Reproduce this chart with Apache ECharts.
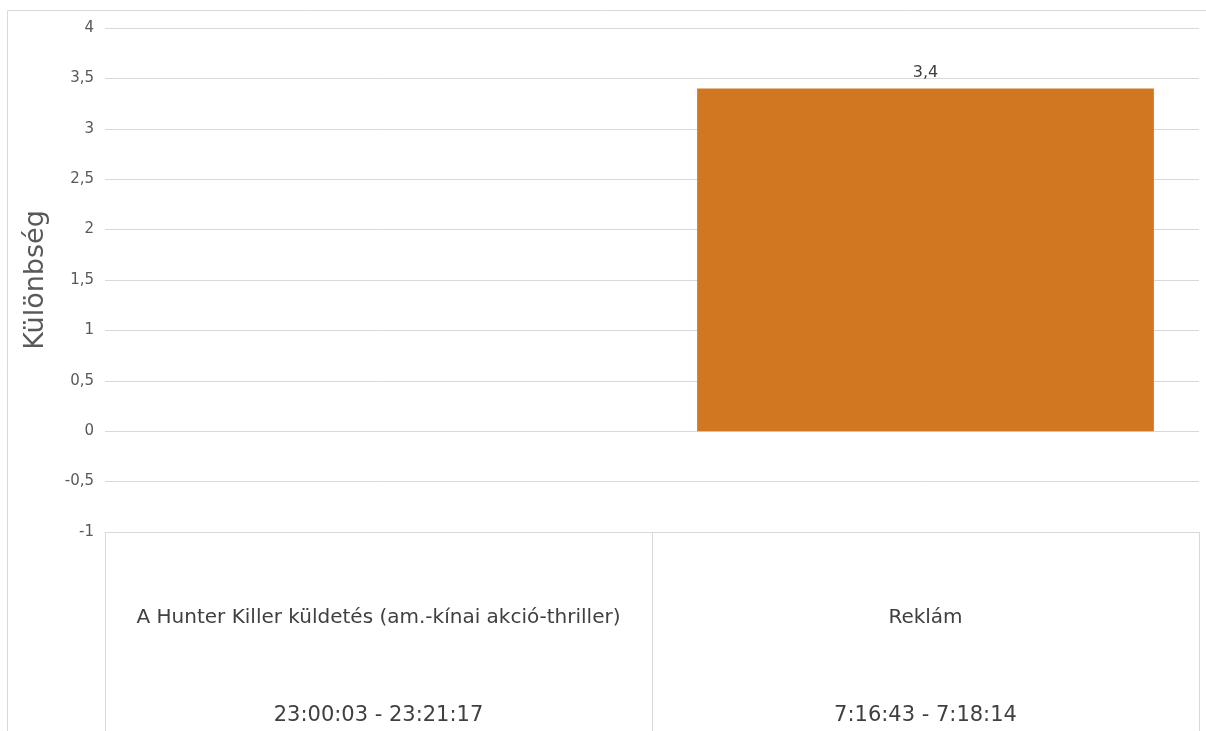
<!DOCTYPE html>
<html><head><meta charset="utf-8">
<script src="https://cdn.jsdelivr.net/npm/echarts@6/dist/echarts.min.js"></script>
<style>html,body{margin:0;padding:0;background:#fff}#c{width:1206px;height:731px}</style>
</head><body><div id="c"></div>
<script>
const categories = ['A Hunter Killer küldetés (am.-kínai akció-thriller)', 'Reklám'];
const timeRanges = ['23:00:03 - 23:21:17', '7:16:43 - 7:18:14'];
const values = [0, 3.4];
const yName = 'Különbség';

const fmt = v => String(v).replace('.', ',');
const chart = echarts.init(document.getElementById('c'));
chart.setOption({
  animation: false,
  textStyle: {fontFamily: 'DejaVu Sans, sans-serif'},
  graphic: [{type: 'rect', shape: {x: 7.5, y: 10.5, width: 1300, height: 800}, style: {fill: 'none', stroke: '#d9d9d9', lineWidth: 1}, silent: true, z: -1}],
  grid: {left: 105, right: 7, top: 28, bottom: 199, containLabel: false, outerBoundsMode: 'none'},
  xAxis: {
    type: 'category',
    data: categories,
    axisLine: {show: true, onZero: false, lineStyle: {color: '#d9d9d9'}},
    axisTick: {show: true, length: 200, lineStyle: {color: '#d9d9d9'}},
    axisLabel: {
      margin: 61, fontSize: 20, color: '#404040', lineHeight: 49, interval: 0,
      formatter: (v, i) => '{a|' + v + '}\n{a| }\n{b|' + timeRanges[i] + '}',
      rich: {
        a: {fontSize: 20, lineHeight: 49, color: '#404040'},
        b: {fontSize: 21, lineHeight: 49, color: '#404040'}
      }
    }
  },
  yAxis: {
    type: 'value', min: -1, max: 4, interval: 0.5,
    name: yName, nameLocation: 'middle', nameGap: 56,
    nameTextStyle: {fontSize: 27, color: '#595959'},
    axisLine: {show: false}, axisTick: {show: false},
    axisLabel: {fontSize: 15, color: '#595959', margin: 11, formatter: v => fmt(v)},
    splitLine: {lineStyle: {color: '#d9d9d9'}}
  },
  series: [{
    type: 'bar', data: values, barCategoryGap: '16.5%',
    itemStyle: {color: '#d27721'},
    label: {show: true, position: 'top', fontSize: 16, color: '#404040', distance: 8,
      formatter: p => p.value === 0 ? '' : fmt(p.value)}
  }]
});
</script></body></html>
